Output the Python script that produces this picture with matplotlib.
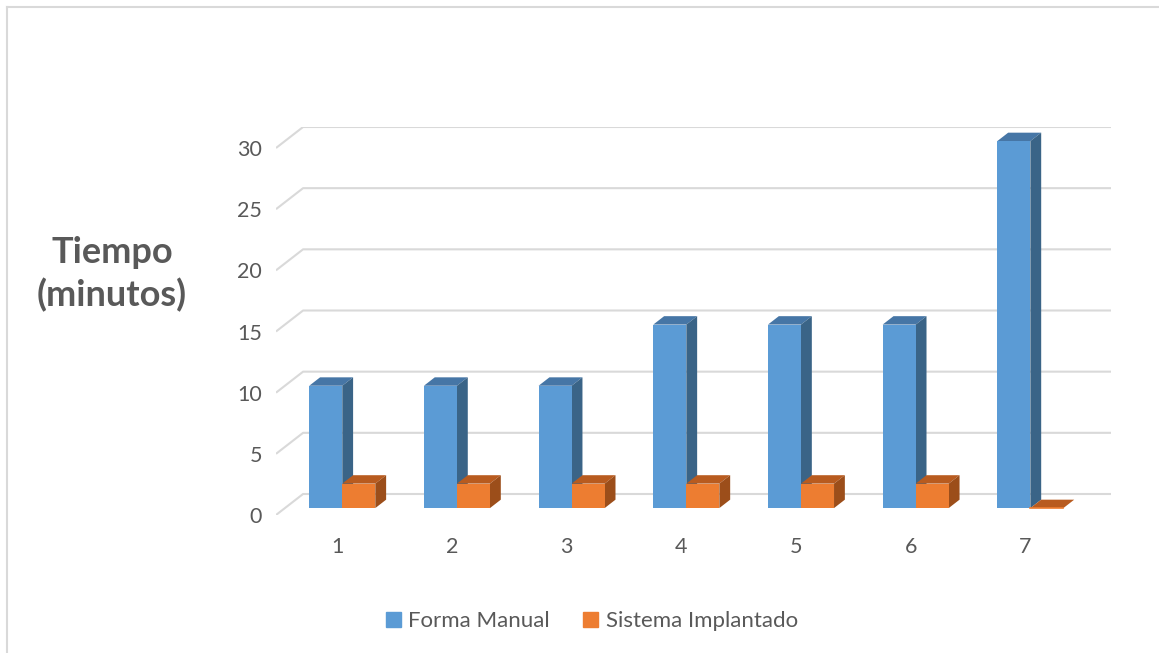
import numpy as np
import matplotlib
matplotlib.use('Agg')
import matplotlib.pyplot as plt
from matplotlib.patches import Polygon, Patch
from matplotlib.lines import Line2D

# datos
categorias = [1, 2, 3, 4, 5, 6, 7]
forma_manual = [10, 10, 10, 15, 15, 15, 30]
sistema_implantado = [2, 2, 2, 2, 2, 2, 0]
series = ['Forma Manual', 'Sistema Implantado']
yticks = [0, 5, 10, 15, 20, 25, 30]

plt.rcParams['font.family'] = ['Lato', 'DejaVu Sans']
gris = '#595959'

# colores (frente, arriba, lado)
col_azul = ('#5B9BD5', '#4676A6', '#3A6487')
col_naranja = ('#ED7D31', '#B85B1F', '#9C4E1A')

# desplazamiento de profundidad (pseudo 3D)
DX = 0.236
DV = 1.717
d0, d1 = 0.33, 0.73
w = 0.288

fig = plt.figure(figsize=(11.59, 6.53), dpi=100)
ax = fig.add_axes([276 / 1159, 1 - 515 / 653, 835 / 1159, 388 / 653])
ax.set_xlim(0.5, 7.5 + DX + 0.045)
ax.set_ylim(0, 30 + DV)


def p(x, v, d):
    return (x + DX * d, v + DV * d)


# lineas de cuadricula (suelo + pared del fondo)
for t in yticks:
    xs, ys = zip(p(0.5, t, 0), p(0.5, t, 1), p(7.545, t, 1))
    ax.plot(xs, ys, color='#D9D9D9', lw=1.5, zorder=1, solid_capstyle='butt')


def barra3d(x0, v, cols, z):
    x1 = x0 + w
    ax.bar(x0 + DX * d0, v, width=w, bottom=DV * d0, align='edge',
           color=cols[0], zorder=z + 0.2, linewidth=0)
    top = [p(x0, v, d0), p(x1, v, d0), p(x1, v, d1), p(x0, v, d1)]
    ax.add_patch(Polygon(top, closed=True, fc=cols[1], ec='none', zorder=z + 0.1))
    side = [p(x1, 0, d0), p(x1, v, d0), p(x1, v, d1), p(x1, 0, d1)]
    ax.add_patch(Polygon(side, closed=True, fc=cols[2], ec='none', zorder=z + 0.1))
    if v == 0:
        ax.plot([p(x0, 0, d0)[0], p(x1, 0, d0)[0]], [p(x0, 0, d0)[1]] * 2,
                color=cols[0], lw=1.2, zorder=z + 0.3)


for i, c in enumerate(categorias):
    barra3d(c - w, forma_manual[i], col_azul, 2 + i)
    barra3d(c, sistema_implantado[i], col_naranja, 2.5 + i)

for s in ax.spines.values():
    s.set_visible(False)
ax.set_yticks(yticks)
ax.set_xticks(np.array(categorias) + 0.035)
ax.set_xticklabels([str(c) for c in categorias])
ax.tick_params(axis='y', length=0, pad=10, labelsize=15.5, labelcolor=gris)
ax.tick_params(axis='x', length=0, pad=16, labelsize=15.5, labelcolor=gris)

fig.text(112 / 1159, 1 - 274 / 653, 'Tiempo\n(minutos)', ha='center', va='center',
         fontsize=26, fontweight='bold', color=gris, linespacing=1.3)

handles = [Patch(color=col_azul[0]), Patch(color=col_naranja[0])]
leg = fig.legend(handles, series, loc='center', bbox_to_anchor=(592 / 1159, 1 - 621 / 653),
                 ncol=2, frameon=False, fontsize=16, handlelength=0.65, handleheight=0.65,
                 handletextpad=0.35, columnspacing=1.5)
for t in leg.get_texts():
    t.set_color(gris)

# borde del grafico
fig.add_artist(Line2D([7 / 1159, 7 / 1159], [0, 1 - 7 / 653], color='#D9D9D9', lw=1.5))
fig.add_artist(Line2D([7 / 1159, 1], [1 - 7 / 653, 1 - 7 / 653], color='#D9D9D9', lw=1.5))

fig.savefig('out.png', dpi=100)
